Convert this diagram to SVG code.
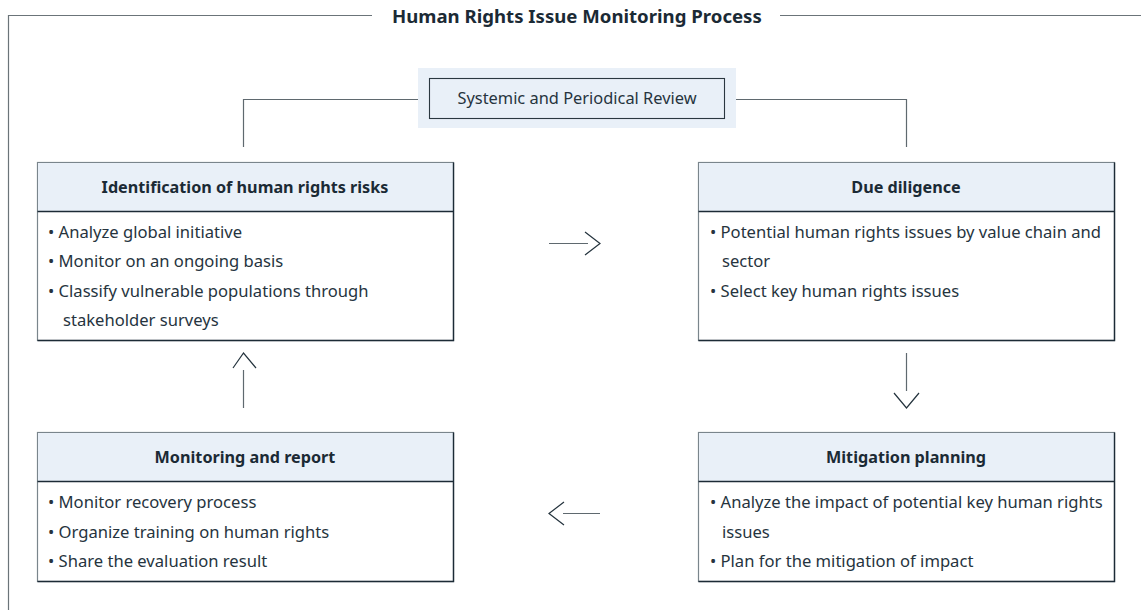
<svg xmlns="http://www.w3.org/2000/svg" width="1141" height="610" viewBox="0 0 1141 610">
<style>
.frame{fill:none;stroke:#6b7479;stroke-width:1.2}
.conn{fill:none;stroke:#5f696f;stroke-width:1.2}
.head{fill:none;stroke:#24333d;stroke-width:1.2}
.hdr{fill:#e9f0f8}
.box{fill:#fff;stroke:#7a858c;stroke-width:1.2}
.edge{fill:none;stroke:#1c2b36;stroke-width:1.4}
.title{font-family:"Noto Sans","Open Sans",sans-serif;font-weight:bold;font-size:18.6px;fill:#1b2a35}
.ntitle{font-family:"Noto Sans","Open Sans",sans-serif;font-weight:bold;font-size:16.2px;fill:#1b2a35;text-anchor:middle}
.item{font-family:"Noto Sans","Open Sans",sans-serif;font-size:16.6px;fill:#26343e}
.rev{font-family:"Noto Sans","Open Sans",sans-serif;font-size:16.4px;fill:#26343e;text-anchor:middle}
</style>
<rect width="1141" height="610" fill="#fff"/>
<g id="frame">
<path class="frame" d="M8.5,610 V15.5 H372"/>
<path class="frame" d="M780,15.5 H1141"/>
<text class="title" x="392" y="23">Human Rights Issue Monitoring Process</text>
</g>
<g id="review">
<rect x="418" y="68" width="318" height="60" fill="#e9f0f8"/>
<rect x="429.5" y="78.5" width="295" height="40" fill="none" stroke="#2a3740" stroke-width="1.1"/>
<text class="rev" x="577" y="104">Systemic and Periodical Review</text>
</g>
<g id="connectors">
<path class="conn" d="M418,99.5 H243.5 V147"/>
<path class="conn" d="M736,99.5 H906.5 V147"/>
<path class="conn" d="M549,243.5 H588"/>
<path class="head" d="M585,232 L600,243.5 L585,255"/>
<path class="conn" d="M906.5,353 V391"/>
<path class="head" d="M894,393 L906.5,408 L919,393"/>
<path class="conn" d="M563,513.5 H600"/>
<path class="head" d="M564,502 L549,513.5 L564,525"/>
<path class="conn" d="M243.5,370 V408"/>
<path class="head" d="M233,368 L243.5,353 L256,368"/>
</g>
<g id="identification">
<rect class="box" x="37.5" y="162.5" width="416" height="178"/>
<rect class="hdr" x="38" y="163" width="415" height="48"/>
<path class="edge" d="M37.5,211.5 H453.5 M453.5,162.5 V340.5 H37.5"/>
<text class="ntitle" x="245" y="193">Identification of human rights risks</text>
<text class="item" x="48" y="238">• Analyze global initiative</text>
<text class="item" x="48" y="267">• Monitor on an ongoing basis</text>
<text class="item" x="48" y="297">• Classify vulnerable populations through</text>
<text class="item" x="63" y="326">stakeholder surveys</text>
</g>
<g id="due-diligence">
<rect class="box" x="698.5" y="162.5" width="416" height="178"/>
<rect class="hdr" x="699" y="163" width="415" height="48"/>
<path class="edge" d="M698.5,211.5 H1114.5 M1114.5,162.5 V340.5 H698.5"/>
<text class="ntitle" x="906" y="193">Due diligence</text>
<text class="item" x="710" y="238">• Potential human rights issues by value chain and</text>
<text class="item" x="722" y="267">sector</text>
<text class="item" x="710" y="297">• Select key human rights issues</text>
</g>
<g id="monitoring">
<rect class="box" x="37.5" y="432.5" width="416" height="149"/>
<rect class="hdr" x="38" y="433" width="415" height="48"/>
<path class="edge" d="M37.5,481.5 H453.5 M453.5,432.5 V581.5 H37.5"/>
<text class="ntitle" x="245" y="463">Monitoring and report</text>
<text class="item" x="48" y="508">• Monitor recovery process</text>
<text class="item" x="48" y="538">• Organize training on human rights</text>
<text class="item" x="48" y="567">• Share the evaluation result</text>
</g>
<g id="mitigation">
<rect class="box" x="698.5" y="432.5" width="416" height="149"/>
<rect class="hdr" x="699" y="433" width="415" height="48"/>
<path class="edge" d="M698.5,481.5 H1114.5 M1114.5,432.5 V581.5 H698.5"/>
<text class="ntitle" x="906" y="463">Mitigation planning</text>
<text class="item" x="710" y="508">• Analyze the impact of potential key human rights</text>
<text class="item" x="722" y="538">issues</text>
<text class="item" x="710" y="567">• Plan for the mitigation of impact</text>
</g>
</svg>
